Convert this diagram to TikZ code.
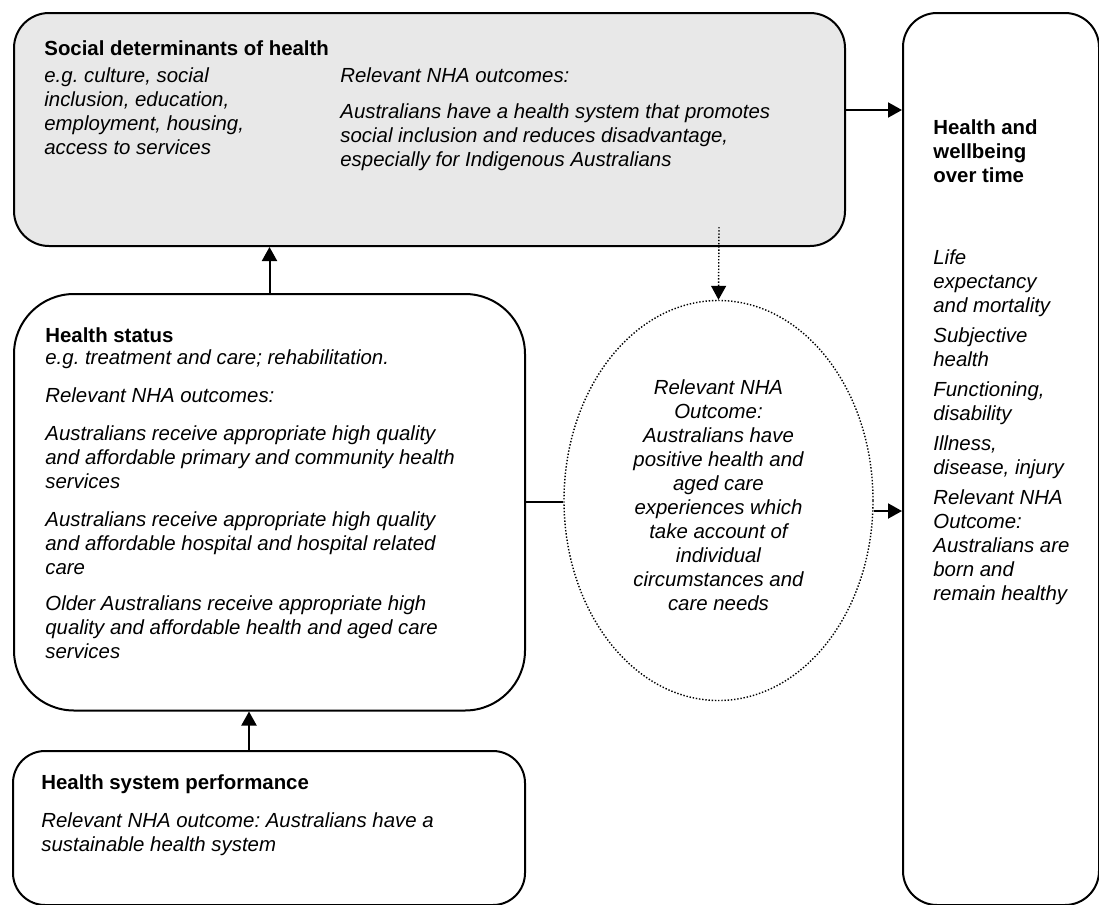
\documentclass[tikz,border=0pt]{standalone}
\usepackage{fontspec}
\setmainfont{Liberation Sans}
\usetikzlibrary{shapes.geometric,arrows.meta}
\frenchspacing

\definecolor{boxgray}{HTML}{E8E8E8}

\tikzset{
  box/.style={draw, line width=1pt, rectangle, rounded corners=#1,
    inner sep=0pt, anchor=north west},
  txt/.style={inner sep=0pt, anchor=base west, align=left,
    font=\fontsize{10.2}{12}\selectfont\itshape},
  ttl/.style={txt, font=\fontsize{10.2}{12}\selectfont\bfseries},
  dots/.style={line width=0.7pt, dash pattern=on 0.7pt off 0.9pt},
  arrow/.style={line width=1pt, -{Triangle[length=7pt,width=7.5pt]}},
  dotarrow/.style={dots, -{Triangle[length=7pt,width=7.5pt]}}
}

\begin{document}
\begin{tikzpicture}[x=0.5pt, y=-0.5pt]
      \useasboundingbox (0,0) rectangle (1099,905);
      % boxes
      \node[box=17.5pt, fill=boxgray, minimum width=415.5pt, minimum height=116.5pt] (social) at (13,12) {};
      \node[box=30pt, minimum width=255.5pt, minimum height=208.25pt] (status) at (13,293) {};
      \node[box=16pt, minimum width=256pt, minimum height=77pt] (perf) at (12,750) {};
      \node[box=17pt, minimum width=98pt, minimum height=446pt] (well) at (902,12) {};
      \node[ellipse, draw, dots, minimum width=154.5pt, minimum height=200pt, inner sep=0pt] (outcome) at (718.5,500.5) {};
      \node[txt, anchor=center, align=center] (outtext) at (718.5,495)
        {Relevant NHA\\Outcome:\\Australians have\\positive health and\\aged care\\experiences which\\take account of\\individual\\circumstances and\\care needs};
      % social determinants (base = last line)
      \node[ttl] (soctitle) at (44,55) {Social determinants of health};
      \node[txt] (socex) at (44,154) {e.g. culture, social\\inclusion, education,\\employment, housing,\\access to services};
      \node[txt] (socrel) at (340,82) {Relevant NHA outcomes:};
      \node[txt] (socout) at (340,166) {Australians have a health system that promotes\\social inclusion and reduces disadvantage,\\especially for Indigenous Australians};
      % health status
      \node[ttl] (sttitle) at (45,342) {Health status};
      \node[txt] (stex) at (45,364) {e.g. treatment and care; rehabilitation.};
      \node[txt] (strel) at (45,402) {Relevant NHA outcomes:};
      \node[txt] (stprim) at (45,488) {Australians receive appropriate high quality\\and affordable primary and community health\\services};
      \node[txt] (sthosp) at (45,574) {Australians receive appropriate high quality\\and affordable hospital and hospital related\\care};
      \node[txt] (staged) at (45,658) {Older Australians receive appropriate high\\quality and affordable health and aged care\\services};
      % health system performance
      \node[ttl] (perftitle) at (41,789) {Health system performance};
      \node[txt] (perfout) at (41,851) {Relevant NHA outcome: Australians have a\\sustainable health system};
      % health and wellbeing
      \node[ttl] (welltitle) at (933,182) {Health and\\wellbeing\\over time};
      \node[txt] (life) at (933,312) {Life\\expectancy\\and mortality};
      \node[txt] (subj) at (933,366) {Subjective\\health};
      \node[txt] (func) at (933,420) {Functioning,\\disability};
      \node[txt] (ill) at (933,474) {Illness,\\disease, injury};
      \node[txt] (wellrel) at (933,600) {Relevant NHA\\Outcome:\\Australians are\\born and\\remain healthy};
      % connectors
      \coordinate (dotstart) at (719,227);
      \begin{scope}[arrow]
        \draw (status.north) to (status.north |- social.south);
        \draw ([xshift=-10pt]perf.north) to ([xshift=-10pt]perf.north |- status.south);
        \draw (social.east |- 0,110) to (well.west |- 0,110);
        \draw (outcome.east |- 0,511) to (well.west |- 0,511);
      \end{scope}
      \draw[line width=1pt] (status.east) to (status.east -| outcome.west);
      \draw[dotarrow] (dotstart) to (outcome.north);
    \end{tikzpicture}
\end{document}
